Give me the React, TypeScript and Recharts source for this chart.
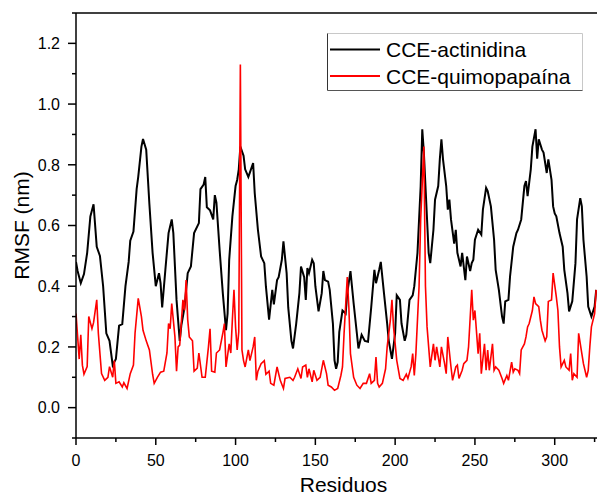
import React from 'react';
import { LineChart, Line, XAxis, YAxis, ReferenceLine } from 'recharts';

const FONT = '"Liberation Sans", Arial, sans-serif';

// CCE-actinidina (black)
const actinidinaResidue = [
  0, 1, 3, 5, 7, 9, 11, 13, 15, 17,
  19, 21, 23, 25, 27, 29, 31, 33, 34, 36,
  38, 39, 41, 42, 44, 46, 48, 50, 52, 53,
  54, 56, 58, 60, 61, 63, 65, 66, 68, 70,
  72, 74, 77, 78, 80, 81, 82, 84, 86, 87,
  88, 90, 92, 94, 95, 96, 98, 100, 101, 102,
  103, 105, 106, 108, 109, 111, 112, 114, 116, 118,
  119, 121, 123, 124, 126, 127, 129, 130, 132, 133,
  135, 136, 138, 140, 141, 143, 144, 145, 146, 148,
  149, 150, 152, 154, 155, 156, 158, 159, 161, 162,
  163, 164, 165, 167, 169, 170, 172, 174, 176, 177,
  179, 181, 183, 185, 187, 188, 190, 191, 193, 195,
  196, 198, 200, 201, 203, 204, 206, 207, 209, 211,
  212, 214, 216, 217, 218, 220, 221, 222, 224, 225,
  227, 228, 229, 230, 232, 233, 234, 235, 237, 238,
  239, 241, 242, 244, 245, 247, 248, 249, 250, 252,
  254, 255, 257, 258, 260, 262, 263, 265, 267, 268,
  269, 271, 272, 274, 276, 277, 279, 281, 282, 283,
  285, 286, 288, 289, 290, 292, 293, 295, 296, 298,
  299, 300, 301, 303, 305, 306, 308, 309, 311, 313,
  314, 316, 317, 318, 320, 321, 323, 325, 326,
];
const actinidinaRmsf = [
  0.48, 0.45, 0.41, 0.44, 0.51, 0.63, 0.67, 0.53, 0.5, 0.4,
  0.245, 0.22, 0.14, 0.16, 0.27, 0.275, 0.4, 0.48, 0.55, 0.58,
  0.72, 0.76, 0.86, 0.885, 0.85, 0.67, 0.51, 0.4, 0.443, 0.41,
  0.33, 0.454, 0.575, 0.62, 0.575, 0.355, 0.22, 0.27, 0.33, 0.443,
  0.465, 0.575, 0.608, 0.72, 0.735, 0.76, 0.66, 0.65, 0.62, 0.7,
  0.675, 0.52, 0.377, 0.255, 0.31, 0.487, 0.63, 0.73, 0.75, 0.785,
  0.86, 0.83, 0.785, 0.76, 0.775, 0.806, 0.707, 0.586, 0.498, 0.476,
  0.4, 0.29, 0.388, 0.34, 0.42, 0.43, 0.487, 0.548, 0.443, 0.33,
  0.22, 0.195, 0.277, 0.377, 0.465, 0.43, 0.355, 0.46, 0.443, 0.487,
  0.476, 0.4, 0.317, 0.377, 0.45, 0.42, 0.415, 0.388, 0.277, 0.156,
  0.128, 0.15, 0.25, 0.32, 0.31, 0.377, 0.45, 0.343, 0.245, 0.195,
  0.24, 0.22, 0.217, 0.33, 0.454, 0.41, 0.454, 0.48, 0.377, 0.277,
  0.22, 0.161, 0.245, 0.37, 0.355, 0.277, 0.22, 0.24, 0.355, 0.37,
  0.4, 0.51, 0.73, 0.917, 0.84, 0.62, 0.51, 0.476, 0.586, 0.685,
  0.73, 0.818, 0.884, 0.818, 0.73, 0.652, 0.685, 0.62, 0.54, 0.586,
  0.51, 0.465, 0.51, 0.42, 0.498, 0.45, 0.476, 0.487, 0.553, 0.586,
  0.57, 0.652, 0.724, 0.713, 0.663, 0.553, 0.454, 0.388, 0.3, 0.277,
  0.35, 0.355, 0.432, 0.53, 0.575, 0.586, 0.62, 0.73, 0.746, 0.697,
  0.785, 0.86, 0.917, 0.82, 0.884, 0.85, 0.84, 0.773, 0.818, 0.75,
  0.663, 0.64, 0.63, 0.575, 0.53, 0.454, 0.377, 0.317, 0.35, 0.476,
  0.62, 0.69, 0.663, 0.553, 0.432, 0.333, 0.3, 0.333, 0.388,
];

// CCE-quimopapaína (red)
const quimopapainaResidue = [
  0, 2, 3, 4, 5, 7, 8, 10, 11, 13,
  14, 16, 18, 20, 21, 23, 24, 25, 27, 29,
  30, 32, 34, 36, 37, 39, 40, 41, 42, 44,
  46, 48, 49, 51, 53, 55, 57, 58, 59, 60,
  62, 63, 64, 65, 67, 68, 69, 70, 71, 73,
  74, 76, 77, 79, 81, 83, 84, 85, 87, 88,
  90, 92, 93, 94, 96, 97, 98, 99, 100, 101,
  102, 103, 104, 105, 106, 108, 109, 111, 112, 113,
  114, 116, 118, 119, 121, 122, 124, 126, 128, 130,
  131, 134, 136, 137, 139, 141, 142, 144, 145, 146,
  148, 149, 151, 153, 155, 157, 158, 160, 162, 164,
  166, 167, 168, 170, 171, 172, 174, 176, 178, 180,
  182, 184, 185, 187, 188, 189, 190, 192, 194, 195,
  197, 198, 199, 201, 203, 205, 207, 208, 210, 211,
  212, 213, 215, 216, 218, 219, 220, 221, 222, 224,
  225, 226, 228, 229, 231, 232, 233, 235, 236, 238,
  239, 240, 242, 243, 245, 246, 248, 249, 250, 252,
  253, 254, 256, 257, 258, 259, 261, 262, 263, 265,
  267, 268, 270, 271, 273, 274, 275, 277, 278, 279,
  281, 282, 283, 284, 286, 287, 288, 290, 291, 292,
  294, 295, 296, 298, 299, 301, 302, 303, 304, 306,
  307, 309, 310, 311, 312, 314, 315, 317, 318, 320,
  321, 322, 323, 325, 326,
];
const quimopapainaRmsf = [
  0.31, 0.16, 0.24, 0.14, 0.11, 0.135, 0.3, 0.26, 0.28, 0.355,
  0.245, 0.112, 0.09, 0.1, 0.135, 0.1, 0.155, 0.08, 0.085, 0.068,
  0.082, 0.063, 0.112, 0.14, 0.245, 0.36, 0.33, 0.3, 0.255, 0.22,
  0.19, 0.11, 0.08, 0.1, 0.117, 0.12, 0.18, 0.277, 0.26, 0.343,
  0.233, 0.12, 0.2, 0.206, 0.355, 0.32, 0.42, 0.29, 0.233, 0.22,
  0.12, 0.13, 0.18, 0.1, 0.1, 0.2, 0.26, 0.12, 0.117, 0.18,
  0.19, 0.245, 0.277, 0.134, 0.21, 0.18, 0.29, 0.388, 0.266, 0.19,
  0.25, 1.13, 0.19, 0.155, 0.134, 0.19, 0.155, 0.2, 0.233, 0.09,
  0.12, 0.145, 0.155, 0.11, 0.12, 0.08, 0.074, 0.134, 0.09, 0.063,
  0.096, 0.1, 0.09, 0.1, 0.128, 0.096, 0.134, 0.14, 0.1, 0.128,
  0.085, 0.123, 0.09, 0.1, 0.156, 0.112, 0.074, 0.068, 0.057, 0.063,
  0.106, 0.134, 0.245, 0.43, 0.33, 0.178, 0.1, 0.074, 0.063, 0.08,
  0.08, 0.112, 0.08, 0.09, 0.167, 0.08, 0.068, 0.08, 0.128, 0.2,
  0.288, 0.355, 0.266, 0.156, 0.096, 0.09, 0.11, 0.096, 0.134, 0.178,
  0.106, 0.178, 0.4, 0.62, 0.86, 0.4, 0.266, 0.2, 0.134, 0.21,
  0.156, 0.2, 0.134, 0.2, 0.145, 0.112, 0.233, 0.134, 0.09, 0.134,
  0.14, 0.096, 0.123, 0.145, 0.156, 0.2, 0.388, 0.288, 0.32, 0.178,
  0.245, 0.112, 0.21, 0.123, 0.19, 0.123, 0.21, 0.123, 0.134, 0.123,
  0.096, 0.08, 0.106, 0.09, 0.15, 0.117, 0.128, 0.123, 0.112, 0.19,
  0.21, 0.233, 0.266, 0.277, 0.32, 0.365, 0.343, 0.333, 0.288, 0.255,
  0.22, 0.233, 0.35, 0.355, 0.443, 0.365, 0.32, 0.2, 0.134, 0.156,
  0.134, 0.123, 0.178, 0.09, 0.112, 0.1, 0.245, 0.178, 0.145, 0.1,
  0.123, 0.2, 0.266, 0.31, 0.388,
];

const xTicks = [0, 25, 50, 75, 100, 125, 150, 175, 200, 225, 250, 275, 300, 325];
const yTicks = [-0.1, 0, 0.1, 0.2, 0.3, 0.4, 0.5, 0.6, 0.7, 0.8, 0.9, 1.0, 1.1, 1.2, 1.3];

const actinidinaData = actinidinaResidue.map((r, i) => ({ residue: r, rmsf: actinidinaRmsf[i] }));
const quimopapainaData = quimopapainaResidue.map((r, i) => ({ residue: r, rmsf: quimopapainaRmsf[i] }));

const YTick = (props: any) => {
  const { x, y, payload } = props;
  const major = Math.round(payload.value * 10) % 2 === 0;
  return (
    <g>
      <line x1={x - (major ? 8 : 4)} x2={x} y1={y} y2={y} stroke="#000" strokeWidth={1.5} />
      {major && (
        <text x={x - 16} y={y} dy="0.36em" textAnchor="end" fontSize={16} fontFamily={FONT} fill="#000">
          {payload.value.toFixed(1)}
        </text>
      )}
    </g>
  );
};

const XTick = (props: any) => {
  const { x, y, payload } = props;
  const major = payload.value % 50 === 0;
  return (
    <g>
      <line x1={x} x2={x} y1={y} y2={y + (major ? 7 : 4)} stroke="#000" strokeWidth={1.5} />
      {major && (
        <text x={x} y={y + 28} textAnchor="middle" fontSize={16} fontFamily={FONT} fill="#000">
          {payload.value}
        </text>
      )}
    </g>
  );
};

const LegendBox = () => (
  <svg width={597} height={495} style={{ position: 'absolute', left: 0, top: 0, pointerEvents: 'none' }}>
    <rect x={327.5} y={33.5} width={255} height={57} fill="#fff" stroke="none" />
    <line x1={327.5} x2={582.5} y1={33.5} y2={33.5} stroke="#c8c8c8" />
    <line x1={582.5} x2={582.5} y1={33.5} y2={90.5} stroke="#c8c8c8" />
    <line x1={327.5} x2={327.5} y1={33.5} y2={90.5} stroke="#333" />
    <line x1={327.5} x2={582.5} y1={90.5} y2={90.5} stroke="#555" />
    <line x1={330} x2={380} y1={49.5} y2={49.5} stroke="#000" strokeWidth={2} />
    <text x={386} y={57} fontSize={21} fontFamily={FONT} fill="#000">CCE-actinidina</text>
    <line x1={330} x2={380} y1={76} y2={76} stroke="#ff0000" strokeWidth={2} />
    <text x={386} y={84} fontSize={21} fontFamily={FONT} fill="#000">CCE-quimopapaína</text>
  </svg>
);

export default function App() {
  return (
    <div style={{ position: 'absolute', left: 0, top: 0, width: 597, height: 495, background: '#fff' }}>
      <LineChart width={597} height={495} margin={{ top: 13, right: 0, bottom: 0, left: 0 }}>
        <XAxis
          type="number"
          dataKey="residue"
          domain={[0, 326.5]}
          ticks={xTicks}
          interval={0}
          height={57}
          tickSize={0}
          tickMargin={0}
          tickLine={false}
          tick={<XTick />}
          axisLine={{ stroke: '#000', strokeWidth: 1.5 }}
          allowDataOverflow
          label={{
            value: 'Residuos',
            position: 'insideBottom',
            offset: 3,
            dx: 7,
            style: { fontSize: 21, fontFamily: FONT, fill: '#000' },
          }}
        />
        <YAxis
          type="number"
          domain={[-0.1, 1.3]}
          ticks={yTicks}
          interval={0}
          width={76}
          tickSize={0}
          tickMargin={0}
          tickLine={false}
          tick={<YTick />}
          axisLine={{ stroke: '#000', strokeWidth: 1.5 }}
          allowDataOverflow
          label={{
            value: 'RMSF (nm)',
            angle: -90,
            position: 'insideLeft',
            offset: 22,
            style: { fontSize: 21, fontFamily: FONT, fill: '#000', textAnchor: 'middle' },
          }}
        />
        <ReferenceLine y={1.3} stroke="#000" strokeWidth={1.5} />
        <Line
          data={actinidinaData}
          dataKey="rmsf"
          type="linear"
          stroke="#000"
          strokeWidth={2}
          dot={false}
          isAnimationActive={false}
        />
        <Line
          data={quimopapainaData}
          dataKey="rmsf"
          type="linear"
          stroke="#ff0000"
          strokeWidth={1.6}
          dot={false}
          isAnimationActive={false}
        />
      </LineChart>
      <LegendBox />
    </div>
  );
}
